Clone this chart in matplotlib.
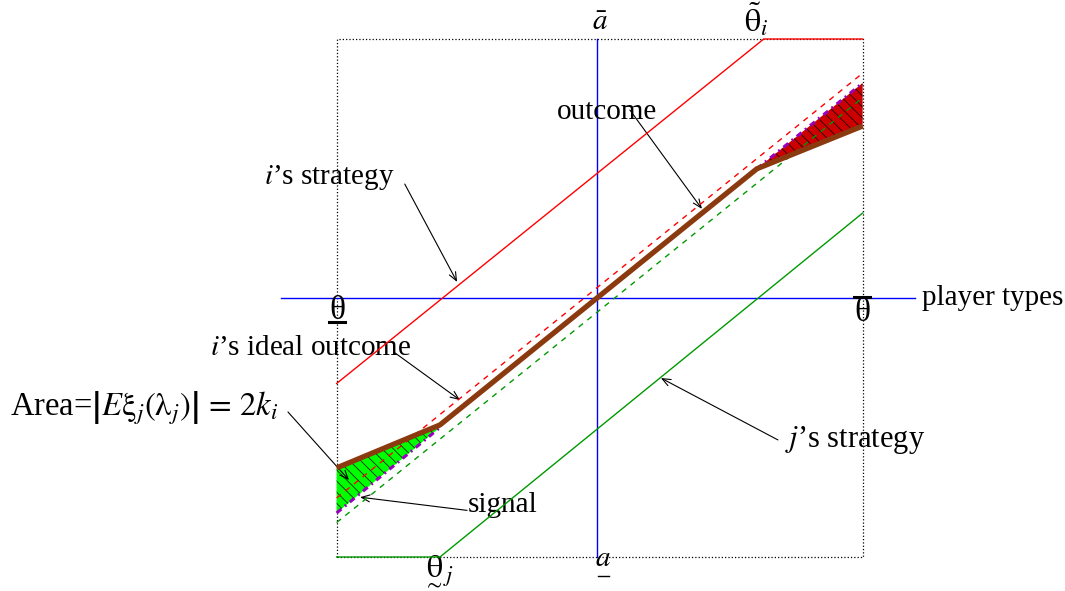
import numpy as np
import matplotlib.pyplot as plt

plt.rcParams['font.family'] = ['Liberation Serif', 'DejaVu Serif']
plt.rcParams['mathtext.fontset'] = 'stix'
plt.rcParams['hatch.linewidth'] = 0.5

# type space (x) and action space (y), normalised units
theta_lo, theta_hi = -0.99, 1.01
a_lo, a_hi = -1.0, 1.0

# strategies and outcomes
i_strategy_x = [-0.99, 0.634, 1.01]
i_strategy_y = [-0.33, 1.0, 1.0]
j_strategy_x = [-0.99, -0.597, 1.01]
j_strategy_y = [-1.0, -1.0, 0.328]
outcome_x = [-0.99, -0.597, 0.608, 1.01]
outcome_y = [-0.656, -0.49, 0.499, 0.664]
ideal_x = [-0.99, 1.01]
ideal_y = [-0.772, 0.868]
signal_x = [-0.99, 1.01]
signal_y = [-0.867, 0.773]
diag_lo_x = [-0.99, -0.597]
diag_lo_y = [-0.83, -0.50]
diag_hi_x = [0.608, 1.01]
diag_hi_y = [0.499, 0.83]

fig = plt.figure(figsize=(10.65, 5.91), dpi=100)
ax = fig.add_axes([0, 0, 1, 1])
ax.set_xlim(-597 / 263, (1065 - 597) / 263)
ax.set_ylim(-(591 - 298) / 259, 298 / 259)
ax.axis('off')

fs = 21

# dotted box
ax.plot([theta_lo, theta_hi, theta_hi, theta_lo, theta_lo],
        [a_lo, a_lo, a_hi, a_hi, a_lo], color='k', ls=':', lw=0.9, zorder=1)

# axes
ax.plot([-1.2, 1.21], [0, 0], color='#0000ff', lw=1.0, zorder=2)
ax.plot([0, 0], [a_lo, a_hi], color='#0000ff', lw=1.0, zorder=2)

# shaded regions
ax.fill_between(diag_lo_x, outcome_y[:2], diag_lo_y, facecolor='#00ff00',
                edgecolor='k', hatch='\\\\\\', lw=0, zorder=3)
ax.fill_between(diag_hi_x, diag_hi_y, outcome_y[2:], facecolor='#cc0000',
                edgecolor='k', hatch='\\\\\\', lw=0, zorder=3)

ax.plot(i_strategy_x, i_strategy_y, color='#ff0000', lw=1.0, zorder=4)
ax.plot(j_strategy_x, j_strategy_y, color='#009900', lw=1.0, zorder=4)
ax.plot(ideal_x, ideal_y, color='#ff0000', lw=1.0, ls=(0, (4, 4)), zorder=4)
ax.plot(signal_x, signal_y, color='#009900', lw=1.0, ls=(0, (4, 4)), zorder=4)
ax.plot(diag_lo_x, diag_lo_y, color='#9900bb', lw=2.2, ls=(0, (2, 1.5, 0.6, 1.5)), zorder=4)
ax.plot(diag_hi_x, diag_hi_y, color='#9900bb', lw=2.2, ls=(0, (2, 1.5, 0.6, 1.5)), zorder=4)
ax.plot(outcome_x, outcome_y, color='#8b3a0f', lw=3.8, solid_capstyle='butt', zorder=5)

# axis labels
ax.text(0.011, 1.01, r'$\bar{a}$', fontsize=fs, ha='center', va='bottom')
ax.text(0.56, 1.0, r'$\tilde{\mathrm{\theta}}_{i}$', fontsize=fs + 2, ha='left', va='bottom')
ax.text(1.236, 0.0, 'player types', fontsize=fs, ha='left', va='center')
ax.text(-0.989, -0.048, 'θ', fontsize=fs + 3, ha='center', va='center')
ax.plot([-1.02, -0.958], [-0.094, -0.094], color='k', lw=2.2)
ax.text(1.008, -0.058, 'θ', fontsize=fs + 3, ha='center', va='center')
ax.plot([0.977, 1.039], [0.005, 0.005], color='k', lw=2.2)
ax.text(0.023, -1.035, r'$a$', fontsize=fs, ha='center', va='baseline')
ax.plot([0.005, 0.045], [-1.075, -1.075], color='k', lw=1.0)
ax.text(-0.66, -0.985, r'$\underset{\sim}{\mathrm{\theta}}_j$', fontsize=fs + 2,
        ha='left', va='top')

arrow = dict(arrowstyle='->,head_length=0.6,head_width=0.25', lw=0.8, color='k',
             shrinkA=0, shrinkB=0)
ax.text(-1.019, 0.467, "$i$’s strategy", fontsize=fs, ha='center', va='center')
ax.annotate('', xy=(-0.532, 0.062), xytext=(-0.731, 0.44), arrowprops=arrow)
ax.text(0.038, 0.718, 'outcome', fontsize=fs, ha='center', va='center')
ax.annotate('', xy=(0.399, 0.344), xytext=(0.125, 0.726), arrowprops=arrow)
ax.text(-1.087, -0.193, "$i$’s ideal outcome", fontsize=fs, ha='center', va='center')
ax.annotate('', xy=(-0.521, -0.394), xytext=(-0.768, -0.212), arrowprops=arrow)
ax.text(-2.232, -0.425,
        r'Area=$\left|E\mathrm{\xi}_j(\mathrm{\lambda}_j)\right|\,=\,2k_i$',
        fontsize=fs + 2.5, ha='left', va='center')
ax.annotate('', xy=(-0.943, -0.703), xytext=(-1.175, -0.44), arrowprops=arrow)
ax.text(-0.49, -0.80, 'signal', fontsize=fs, ha='left', va='center')
ax.annotate('', xy=(-0.901, -0.769), xytext=(-0.494, -0.82), arrowprops=arrow)
ax.text(0.715, -0.548, "$j$’s strategy", fontsize=fs + 1, ha='left', va='center')
ax.annotate('', xy=(0.243, -0.309), xytext=(0.688, -0.548), arrowprops=arrow)

fig.savefig('out.png', dpi=100)
